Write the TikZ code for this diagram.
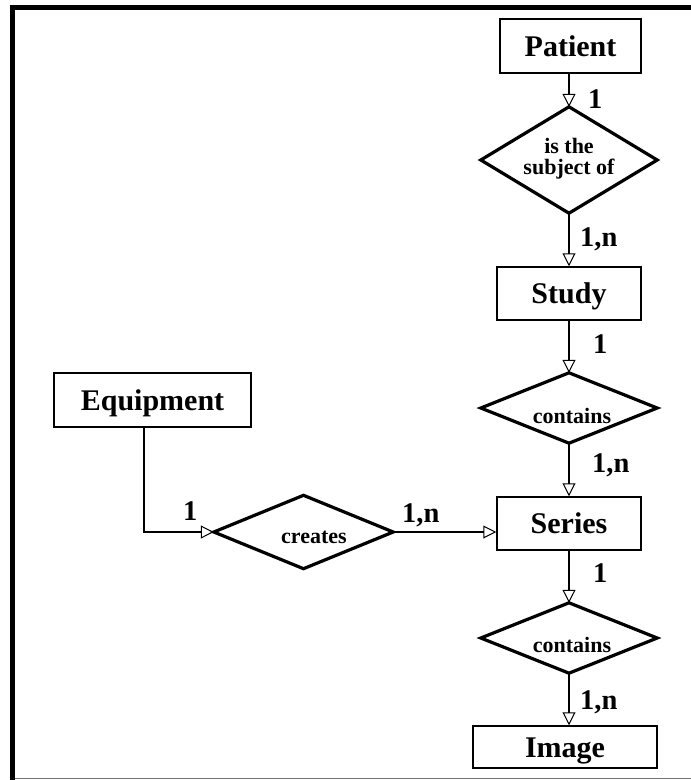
\documentclass[tikz,border=0pt]{standalone}
\usepackage{fontspec}
\setmainfont{Liberation Serif}
\usetikzlibrary{arrows.meta}
\tikzset{
  entity/.style={draw, line width=1.5pt, inner sep=0pt, text height=20pt, text depth=0pt,
    font=\fontsize{30}{30}\selectfont\bfseries},
  relframe/.style={inner sep=0pt},
  reltext/.style={anchor=base, font=\fontsize{22}{22}\selectfont\bfseries, align=center, inner sep=0pt},
  diaedge/.style={line width=3.2pt, line join=miter},
  card/.style={anchor=base west, inner sep=0pt, font=\fontsize{28.5}{28.5}\selectfont\bfseries},
  conn/.style={line width=2.2pt, -{Triangle[open, length=13pt, width=13pt, line width=1pt]}},
}
\begin{document}
\begin{tikzpicture}[x=1pt, y=-1pt]
\useasboundingbox (0,0) rectangle (691,780);
% frame
\draw[line width=5pt] (12.5,780) -- (12.5,7.5) -- (691,7.5);
\draw[line width=1.5pt, black!55] (15,778.5) -- (691,778.5);

% entities
\node[entity, minimum width=141pt, minimum height=54pt] (patient) at (570.5,46) {Patient};
\node[entity, minimum width=144pt, minimum height=53pt] (study) at (569,293.5) {Study};
\node[entity, minimum width=144pt, minimum height=53pt] (series) at (569,523.5) {Series};
\node[entity, minimum width=184pt, minimum height=42pt] (image) at (565,747) {Image};
\node[entity, minimum width=197pt, minimum height=54pt] (equip) at (152.5,400) {Equipment};

% relationships
\node[relframe, minimum width=176pt, minimum height=106pt] (d1) at (569,160) {};
\draw[diaedge] (d1.north) -- (d1.east) -- (d1.south) -- (d1.west) -- cycle;
\node[reltext] (d1t) at (569,174) {is the\\[-1pt]subject of};

\node[relframe, minimum width=176pt, minimum height=70pt] (d2) at (569,408) {};
\draw[diaedge] (d2.north) -- (d2.east) -- (d2.south) -- (d2.west) -- cycle;
\node[reltext] (d2t) at (572,423) {contains};

\node[relframe, minimum width=176pt, minimum height=70pt] (d3) at (569,638) {};
\draw[diaedge] (d3.north) -- (d3.east) -- (d3.south) -- (d3.west) -- cycle;
\node[reltext] (d3t) at (572,652) {contains};

\node[relframe, minimum width=179pt, minimum height=73pt] (d4) at (303.5,532) {};
\draw[diaedge] (d4.north) -- (d4.east) -- (d4.south) -- (d4.west) -- cycle;
\node[reltext] (d4t) at (314,543) {creates};

% connectors
\draw[conn] (d1.north |- patient.south) -- (d1.north);
\draw[conn] (d1.south) -- (d1.south |- study.north);
\draw[conn] (study.south -| d2.north) -- (d2.north);
\draw[conn] (d2.south) -- (d2.south |- series.north);
\draw[conn] (series.south -| d3.north) -- (d3.north);
\draw[conn] (d3.south) -- (d3.south |- image.north);
\draw[conn] ([xshift=-8.5pt]equip.south) |- (d4.west);
\draw[conn] (d4.east) -- (d4.east -| series.west);

% cardinalities
\node[card] (c1) at (588,108) {1};
\node[card] (c2) at (580,246) {1,n};
\node[card] (c3) at (593,353) {1};
\node[card] (c4) at (592,472) {1,n};
\node[card] (c5) at (593,582) {1};
\node[card] (c6) at (580,709) {1,n};
\node[card] (c7) at (183,520) {1};
\node[card] (c8) at (402,522) {1,n};
\end{tikzpicture}
\end{document}
